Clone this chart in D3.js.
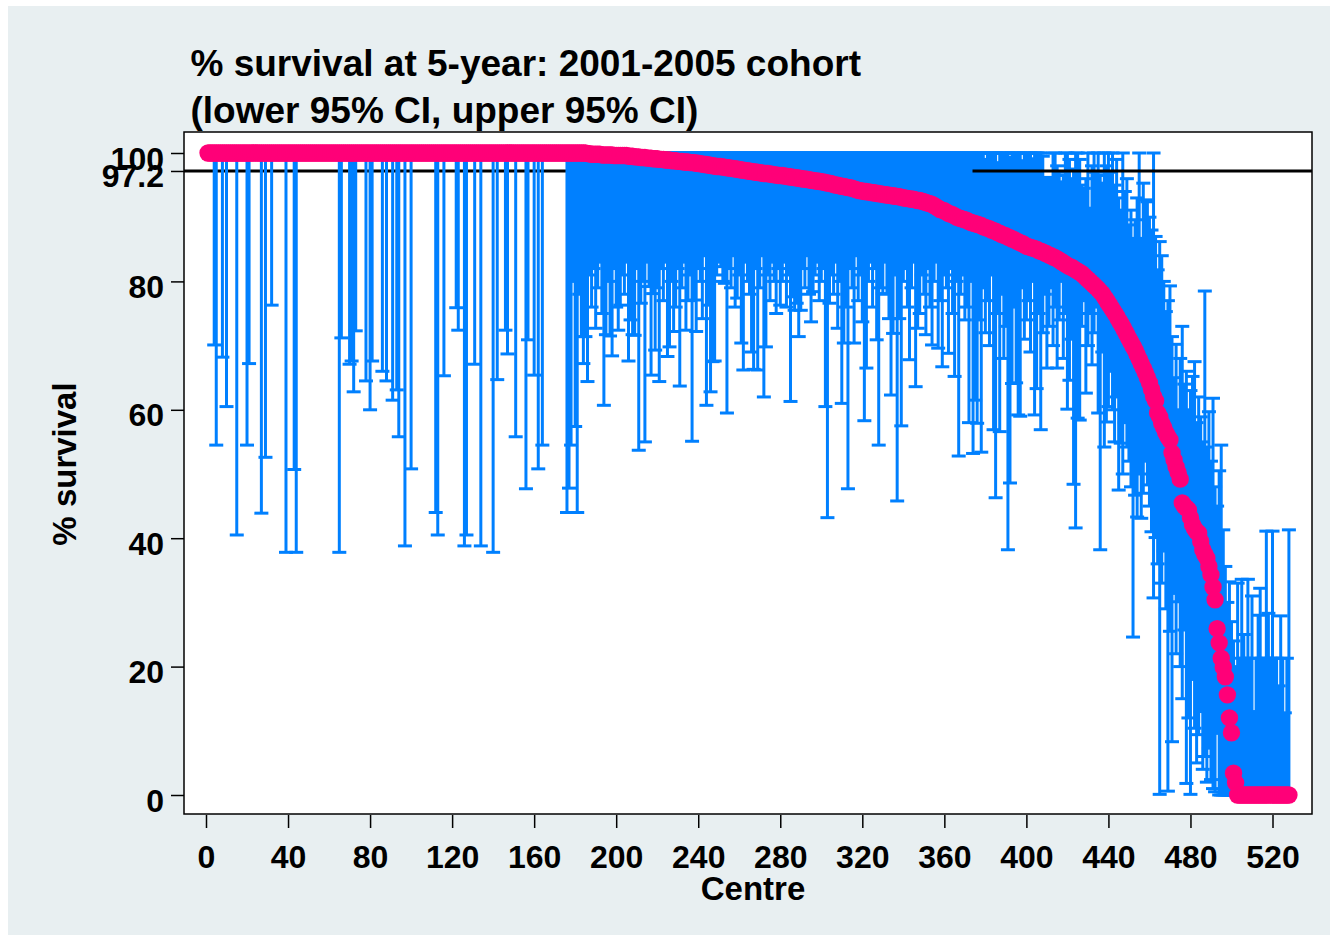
<!DOCTYPE html>
<html><head><meta charset="utf-8">
<script src="https://cdn.jsdelivr.net/npm/d3@7"></script>
<style>
html,body{margin:0;padding:0;background:#fff;}
svg{display:block;}
</style>
</head><body><div id="chart"></div>
<script>
// ---------------- DATA ----------------
const titleLines = ["% survival at 5-year: 2001-2005 cohort", "(lower 95% CI, upper 95% CI)"];
const xTitle = "Centre";
const yTitle = "% survival";
const xTicks = [0,40,80,120,160,200,240,280,320,360,400,440,480,520];
const yTicks = [0,20,40,60,80,100];
const targetValue = 97.2;
const centres = d3.range(1, 529);

const survival = [
/*c1*/100,100,100,100,100,100,100,100,100,100,
/*c11*/100,100,100,100,100,100,100,100,100,100,
/*c21*/100,100,100,100,100,100,100,100,100,100,
/*c31*/100,100,100,100,100,100,100,100,100,100,
/*c41*/100,100,100,100,100,100,100,100,100,100,
/*c51*/100,100,100,100,100,100,100,100,100,100,
/*c61*/100,100,100,100,100,100,100,100,100,100,
/*c71*/100,100,100,100,100,100,100,100,100,100,
/*c81*/100,100,100,100,100,100,100,100,100,100,
/*c91*/100,100,100,100,100,100,100,100,100,100,
/*c101*/100,100,100,100,100,100,100,100,100,100,
/*c111*/100,100,100,100,100,100,100,100,100,100,
/*c121*/100,100,100,100,100,100,100,100,100,100,
/*c131*/100,100,100,100,100,100,100,100,100,100,
/*c141*/100,100,100,100,100,100,100,100,100,100,
/*c151*/100,100,100,100,100,100,100,100,100,100,
/*c161*/100,100,100,100,100,100,100,100,100,100,
/*c171*/100,100,100,100,100,100,100,100,100,100,
/*c181*/100,100,100,100,100,99.9,99.9,99.8,99.8,99.8,
/*c191*/99.8,99.8,99.7,99.7,99.7,99.7,99.7,99.7,99.6,99.6,
/*c201*/99.6,99.6,99.6,99.6,99.6,99.5,99.5,99.5,99.4,99.4,
/*c211*/99.4,99.3,99.3,99.3,99.2,99.2,99.2,99.1,99.1,99.1,
/*c221*/99.0,99.0,99.0,98.9,98.9,98.9,98.8,98.8,98.8,98.7,
/*c231*/98.7,98.7,98.6,98.6,98.6,98.5,98.5,98.5,98.4,98.4,
/*c241*/98.3,98.3,98.2,98.2,98.1,98.1,98.0,98.0,97.9,97.9,
/*c251*/97.9,97.8,97.8,97.7,97.7,97.6,97.6,97.5,97.5,97.4,
/*c261*/97.4,97.3,97.3,97.2,97.2,97.1,97.1,97.0,97.0,96.9,
/*c271*/96.9,96.8,96.8,96.8,96.7,96.7,96.6,96.6,96.5,96.5,
/*c281*/96.5,96.4,96.4,96.3,96.3,96.2,96.2,96.1,96.1,96.0,
/*c291*/96.0,95.9,95.9,95.8,95.8,95.7,95.7,95.6,95.6,95.5,
/*c301*/95.5,95.4,95.3,95.3,95.2,95.1,95.0,95.0,94.9,94.8,
/*c311*/94.8,94.7,94.6,94.6,94.5,94.4,94.3,94.2,94.1,94.1,
/*c321*/94.0,94.0,93.9,93.9,93.8,93.8,93.7,93.7,93.6,93.6,
/*c331*/93.5,93.5,93.4,93.4,93.3,93.3,93.2,93.2,93.1,93.0,
/*c341*/93.0,92.9,92.9,92.8,92.8,92.7,92.6,92.6,92.5,92.4,
/*c351*/92.3,92.2,92.1,92.0,91.8,91.6,91.4,91.2,91.1,91.0,
/*c361*/90.8,90.6,90.5,90.4,90.2,90.0,89.9,89.8,89.7,89.6,
/*c371*/89.5,89.3,89.2,89.1,89.0,88.9,88.8,88.7,88.5,88.4,
/*c381*/88.3,88.2,88.0,87.9,87.8,87.6,87.5,87.3,87.2,87.1,
/*c391*/86.9,86.8,86.6,86.5,86.3,86.2,86.0,85.9,85.7,85.5,
/*c401*/85.4,85.3,85.2,85.1,85.0,84.8,84.7,84.6,84.4,84.3,
/*c411*/84.1,84.0,83.8,83.7,83.5,83.3,83.1,82.9,82.7,82.5,
/*c421*/82.3,82.2,82.0,81.8,81.6,81.4,81.2,80.9,80.6,80.3,
/*c431*/80.0,79.7,79.4,79.1,78.8,78.4,78.1,77.6,77.1,76.6,
/*c441*/76.1,75.6,75.1,74.6,74.0,73.5,72.9,72.3,71.7,71.1,
/*c451*/70.5,69.9,69.3,68.6,67.9,67.2,66.5,65.8,65.0,64.2,
/*c461*/63.2,62.1,61.4,59.5,58.9,57.9,57.2,56.4,55.8,55.3,
/*c471*/53.3,52.2,51.1,50.2,49.2,45.5,45.0,44.7,44.4,43.2,
/*c481*/42.1,41.5,41.0,40.8,39.5,38.2,37.5,36.9,35.6,34.3,
/*c491*/32.4,30.4,25.9,23.7,21.3,19.9,18.4,15.6,12.0,9.7,
/*c501*/3.4,1.9,0,0,0,0,0,0,0,0,
/*c511*/0,0,0,0,0,0,0,0,0,0,
/*c521*/0,0,0,0,0,0,0,0
];

const lowerCI = [
/*c1*/100,100,100,70.1,54.5,100,100,68.2,100,60.5,
/*c11*/100,100,100,100,40.5,100,100,100,100,54.5,
/*c21*/67.2,100,100,100,100,100,43.9,100,52.6,100,
/*c31*/100,76.3,100,100,100,100,100,100,37.8,100,
/*c41*/100,100,50.7,37.8,100,100,100,100,100,100,
/*c51*/100,100,100,100,100,100,100,100,100,100,
/*c61*/100,100,100,100,37.8,71.2,100,100,100,67.1,
/*c71*/67.6,62.8,72.3,100,100,100,100,64.5,100,60.0,
/*c81*/67.6,100,100,100,100,66.0,100,64.5,100,100,
/*c91*/61.5,100,63.1,55.8,100,100,38.8,100,100,50.8,
/*c101*/100,100,100,100,100,100,100,100,100,100,
/*c111*/100,44.0,40.5,100,100,65.3,100,100,100,100,
/*c121*/100,75.9,72.4,100,100,38.8,40.5,100,100,100,
/*c131*/67.1,100,100,38.8,100,100,100,100,100,37.8,
/*c141*/100,64.7,100,100,100,72.4,68.7,100,100,100,
/*c151*/55.8,100,100,100,100,47.7,70.9,100,100,65.4,
/*c161*/100,50.8,100,54.5,100,100,100,100,100,100,
/*c171*/100,100,100,100,100,
/*c176*/44.0,47.8,54.5,80,57.4,44.0,78,71.4,67.2,71.4,
/*c186*/64.4,81,76,82,72.7,79,83,75,60.7,71.7,
/*c196*/80,71.5,68.4,82,76,72.4,76.3,81,78,83,
/*c206*/67.6,74,71.7,71.6,82,53.7,76.6,80,55.0,83,
/*c216*/79.2,65.4,78.1,69.3,79,64.4,82,77,83,68.3,
/*c226*/69.8,80,72.2,76,82,63.7,79,83,72.4,77,
/*c236*/81,55.1,77.1,72.2,82,80,74.2,84,60.7,76.3,
/*c246*/62.8,67.5,67.6,81,83,82.3,80,79.7,59.5,82,
/*c256*/79,84,76,77.4,81,70.4,66.2,83,80,78,
/*c266*/69.0,66.3,82,66.2,79,84,62.0,69.8,81,77,
/*c276*/83,80,75,82,76.3,80,83,76,81,61.3,
/*c286*/77.6,75.5,76.6,71.4,75.5,82,79,84,78,73.7,
/*c296*/78.4,81,83,77,80,82,60.5,43.2,76.6,81,
/*c306*/78,83,72.7,80,61.0,70.4,76,47.7,82,79,
/*c316*/70.4,84,77,81,73.7,58.3,66.5,80,83,76,
/*c326*/82,70.9,54.5,79,78.1,83,78,74.2,62.3,71.9,
/*c336*/81,45.8,74.2,57.5,80,82,76,67.8,79,83,
/*c346*/63.6,72.7,75.0,81,78,71.7,82,76,70.1,80,
/*c356*/83,69.6,77,66.7,81,79,68.8,82,75,65.2,
/*c366*/80,52.8,78,81,74,76,58.0,80,53.2,61.5,
/*c376*/57.9,74,53.4,79,72,77,70,81,56.9,46.3,
/*c386*/75,56.6,78,68,73,38.2,48.6,64.1,76,64.2,
/*c396*/59.2,59.0,79,71,74,77,69,80,59.2,63.3,
/*c406*/75,56.9,72,78,66.5,73,79,70,76,66.5,
/*c416*/74,80,68,75,60.1,64.6,71,48.4,41.6,58.7,
/*c426*/58.4,73,77,62.6,70,75,67,72,76,59.5,
/*c436*/38.2,69,54.2,58.1,60.5,66,60,55,62,47.5,
/*c446*/54.8,50.0,58,54.2,52,48,24.6,46.7,43.3,50,
/*c456*/43.1,47,52,48.3,45,41,30.7,40.1,36,0.1,
/*c466*/33,38,29,0.6,25.5,8.3,31.4,22,30.1,20,
/*c476*/15,25.7,1.8,12,0.1,18.0,10.4,5,9.4,13.0,
/*c486*/4,6,2,7.3,2.4,1,0.5,9.6,0,0,
/*c496*/0,0,0,0,0,0,0,0,0,0,
/*c506*/0,0,0,0,0,0,0,0,0,0,
/*c516*/0,0,0,0,0,0,0,0,0,0,
/*c526*/0,0,0
];

const upperCI = [
/*c1*/100,100,100,100,100,100,100,100,100,100,
/*c11*/100,100,100,100,100,100,100,100,100,100,
/*c21*/100,100,100,100,100,100,100,100,100,100,
/*c31*/100,100,100,100,100,100,100,100,100,100,
/*c41*/100,100,100,100,100,100,100,100,100,100,
/*c51*/100,100,100,100,100,100,100,100,100,100,
/*c61*/100,100,100,100,100,100,100,100,100,100,
/*c71*/100,100,100,100,100,100,100,100,100,100,
/*c81*/100,100,100,100,100,100,100,100,100,100,
/*c91*/100,100,100,100,100,100,100,100,100,100,
/*c101*/100,100,100,100,100,100,100,100,100,100,
/*c111*/100,100,100,100,100,100,100,100,100,100,
/*c121*/100,100,100,100,100,100,100,100,100,100,
/*c131*/100,100,100,100,100,100,100,100,100,100,
/*c141*/100,100,100,100,100,100,100,100,100,100,
/*c151*/100,100,100,100,100,100,100,100,100,100,
/*c161*/100,100,100,100,100,100,100,100,100,100,
/*c171*/100,100,100,100,100,100,100,100,100,100,
/*c181*/100,100,100,100,100,100,100,100,100,100,
/*c191*/100,100,100,100,100,100,100,100,100,100,
/*c201*/100,100,100,100,100,100,100,100,100,100,
/*c211*/100,100,100,100,100,100,100,100,100,100,
/*c221*/100,100,100,100,100,100,100,100,100,100,
/*c231*/100,100,100,100,100,100,100,100,100,100,
/*c241*/100,100,100,100,100,100,100,100,100,100,
/*c251*/100,100,100,100,100,100,100,100,100,100,
/*c261*/100,100,100,100,100,100,100,100,100,100,
/*c271*/100,100,100,100,100,100,100,100,100,100,
/*c281*/100,100,100,100,100,100,100,100,100,100,
/*c291*/100,100,100,100,100,100,100,100,100,100,
/*c301*/100,100,100,100,100,100,100,100,100,100,
/*c311*/100,100,100,100,100,100,100,100,100,100,
/*c321*/100,100,100,100,100,100,100,100,100,100,
/*c331*/100,100,100,100,100,100,100,100,100,100,
/*c341*/100,100,100,100,100,100,100,100,100,100,
/*c351*/100,100,100,100,100,100,100,100,100,100,
/*c361*/100,100,100,100,100,100,100,100,100,100,
/*c371*/100,100,100,100,100,100,100,100,100,99.0,
/*c381*/100,100,100,100,100,98.5,100,100,100,100,
/*c391*/100,99.3,100,100,100,100,100,98.8,100,100,
/*c401*/100,100,99.1,100,100,100,100,99.5,96.0,95.5,
/*c411*/96.2,95.8,100,100,98.0,97.0,95.5,96.5,100,100,
/*c421*/99.0,96.0,97.5,100,100,99.0,95.0,94.5,96.0,100,
/*c431*/91.4,98,100,97,100,96.5,95.3,100,98,100,
/*c441*/97,100,95,99,93,91.1,100,94,96,88.8,
/*c451*/91.1,86.7,89.6,93,100,86.7,95.3,92.7,92.4,90,
/*c461*/88,100,87,81.8,86.2,84,80,75.3,77,79.3,
/*c471*/71.4,65,70.2,60,68,73,64,66,60,63,
/*c481*/65.2,67.5,58,62,58.9,55,78.5,54.2,59.7,52,
/*c491*/61.8,48,45,50.5,54.5,41.3,35.6,30,33.2,27,
/*c501*/24,20,33,21.3,33.6,25,21.3,33.6,21.3,31,
/*c511*/13,21.3,28,32.2,21.3,21.3,41.1,28.3,21.3,41.1,
/*c521*/21.3,21.3,17,27.9,21.3,12.8,21.3,41.3
];

// ---------------- CHART ----------------
if (survival.length !== centres.length || lowerCI.length !== centres.length || upperCI.length !== centres.length) {
  console.error("length mismatch", centres.length, survival.length, lowerCI.length, upperCI.length);
}

const W = 1330, H = 935;
const FONT = "'Liberation Sans', Arial, Helvetica, sans-serif";
const BLUE = "#0080ff", PINK = "#ff0078";
const plot = {left: 184, top: 132, right: 1312, bottom: 814};
// the reference line is layered above the CI bars from this centre onwards
const lineAboveFromCentre = 374;

const svg = d3.select("#chart").append("svg").attr("width", W).attr("height", H);
svg.append("rect").attr("width", W).attr("height", H).attr("fill", "#fff");
svg.append("rect").attr("x", 8).attr("y", 6).attr("width", W - 8).attr("height", H - 6).attr("fill", "#e8eff1");
svg.append("rect").attr("x", plot.left).attr("y", plot.top)
  .attr("width", plot.right - plot.left).attr("height", plot.bottom - plot.top).attr("fill", "#fff");

const x = d3.scaleLinear().domain([0, 520]).range([206, 1272.5]);
const y = d3.scaleLinear().domain([0, 100]).range([795, 153]);

const data = centres.map((c, i) => ({c, s: survival[i], lo: lowerCI[i], hi: upperCI[i]}));
const capHalf = 7;

function drawBars(sel) {
  const g = svg.append("g").attr("stroke", BLUE).attr("stroke-width", 3).attr("fill", "none");
  g.selectAll("line.v").data(sel).join("line").attr("class", "v")
    .attr("x1", d => x(d.c)).attr("x2", d => x(d.c))
    .attr("y1", d => y(d.lo)).attr("y2", d => y(d.hi));
  g.selectAll("line.lo").data(sel).join("line").attr("class", "lo")
    .attr("x1", d => x(d.c) - capHalf).attr("x2", d => x(d.c) + capHalf)
    .attr("y1", d => y(d.lo)).attr("y2", d => y(d.lo));
  g.selectAll("line.hi").data(sel).join("line").attr("class", "hi")
    .attr("x1", d => x(d.c) - capHalf).attr("x2", d => x(d.c) + capHalf)
    .attr("y1", d => y(d.hi)).attr("y2", d => y(d.hi));
}

// bars below the reference line
drawBars(data.filter(d => d.c >= lineAboveFromCentre));

// reference line
svg.append("line")
  .attr("x1", plot.left).attr("x2", plot.right)
  .attr("y1", y(targetValue)).attr("y2", y(targetValue))
  .attr("stroke", "#000").attr("stroke-width", 3);

// bars above the reference line
drawBars(data.filter(d => d.c < lineAboveFromCentre));

// survival points
svg.append("g").attr("fill", PINK)
  .selectAll("circle").data(data).join("circle")
  .attr("cx", d => x(d.c)).attr("cy", d => y(d.s)).attr("r", 8.7);

// plot frame
svg.append("rect").attr("x", plot.left).attr("y", plot.top)
  .attr("width", plot.right - plot.left).attr("height", plot.bottom - plot.top)
  .attr("fill", "none").attr("stroke", "#000").attr("stroke-width", 1.5);

// axes
const yAxis = d3.axisLeft(y).tickValues(yTicks.concat([targetValue])).tickSize(13).tickPadding(7)
  .tickFormat(d => d === targetValue ? "97.2" : d3.format("d")(d));
const gy = svg.append("g").attr("transform", `translate(${plot.left},0)`).call(yAxis);
gy.select(".domain").remove();
gy.attr("font-family", FONT).attr("font-size", 32).attr("font-weight", "bold");
gy.selectAll(".tick line").attr("stroke", "#000").attr("stroke-width", 1.5);
gy.selectAll(".tick text").attr("fill", "#000").attr("dy", 16);

const xAxis = d3.axisBottom(x).tickValues(xTicks).tickSize(13).tickPadding(5).tickFormat(d3.format("d"));
const gx = svg.append("g").attr("transform", `translate(0,${plot.bottom + 1})`).call(xAxis);
gx.select(".domain").remove();
gx.attr("font-family", FONT).attr("font-size", 32).attr("font-weight", "bold");
gx.selectAll(".tick line").attr("stroke", "#000").attr("stroke-width", 1.5);
gx.selectAll(".tick text").attr("fill", "#000").attr("y", 53).attr("dy", 0);

// axis titles
svg.append("text").attr("x", 753).attr("y", 900).attr("text-anchor", "middle")
  .attr("font-family", FONT).attr("font-size", 33).attr("font-weight", "bold").text(xTitle);
svg.append("text").attr("transform", "translate(76,464) rotate(-90)").attr("text-anchor", "middle")
  .attr("font-family", FONT).attr("font-size", 33).attr("font-weight", "bold").text(yTitle);

// title
svg.append("g").selectAll("text").data(titleLines).join("text")
  .attr("x", 190.5).attr("y", (d, i) => 76 + i * 46.5)
  .attr("font-family", FONT).attr("font-size", 37).attr("font-weight", "bold").text(d => d);
</script>
</body></html>
